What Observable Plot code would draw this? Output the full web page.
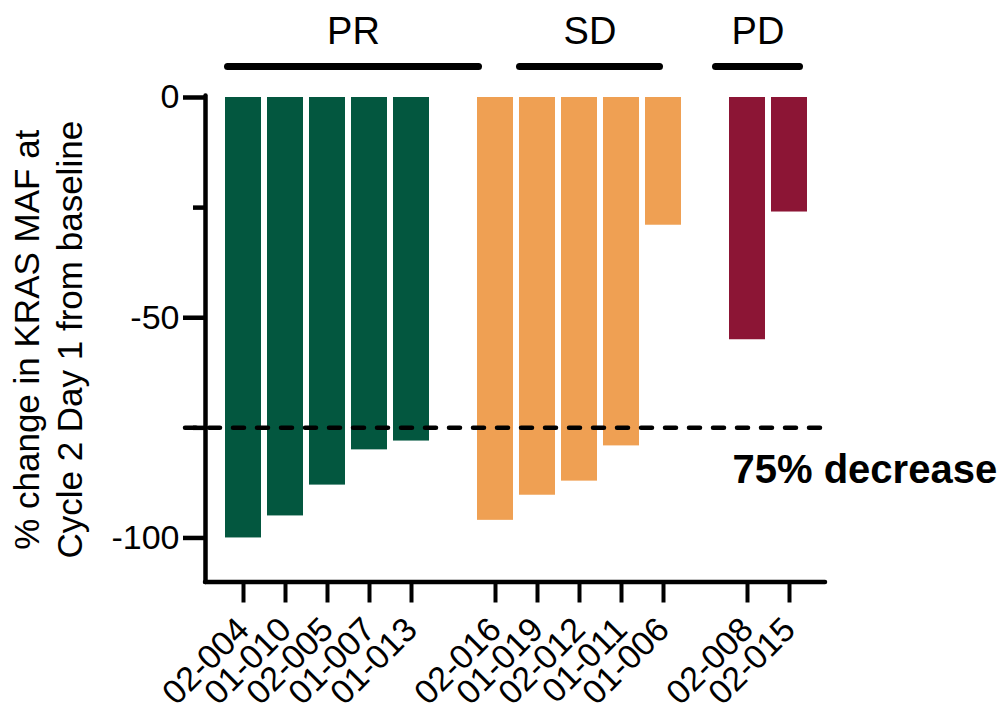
<!DOCTYPE html>
<html>
<head>
<meta charset="utf-8">
<script src="https://cdn.jsdelivr.net/npm/d3@7"></script>
<script src="https://cdn.jsdelivr.net/npm/@observablehq/plot@0.6"></script>
<style>
  html, body { margin: 0; padding: 0; background: #fff; }
  #chart svg { display: block; }
</style>
</head>
<body>
<div id="chart"></div>
<script>
// ---- data ----
const patients = ["02-004","01-010","02-005","01-007","01-013","02-016","01-019","02-012","01-011","01-006","02-008","02-015"];
const changes  = [-100, -95, -88, -80, -78, -96, -90.3, -87.1, -79.1, -29, -55, -26];
const response = ["PR","PR","PR","PR","PR","SD","SD","SD","SD","SD","PD","PD"];
const groups = ["PR", "SD", "PD"];
const groupColors = ["#03573F", "#EFA053", "#8C1535"];
const slots = ["02-004","01-010","02-005","01-007","01-013"," ","02-016","01-019","02-012","01-011","01-006","  ","02-008","02-015"];
const yMajorTicks = [0, -50, -100];
const yMinorTicks = [-25, -75];
const yDomain = [-110, 0];
const threshold = -75;
const thresholdLabel = "75% decrease";
const yLabelLines = ["% change in KRAS MAF at", "Cycle 2 Day 1 from baseline"];
const groupFirst = ["02-004", "02-016", "02-008"];
const groupLast  = ["01-013", "01-006", "02-015"];
const groupMid   = ["02-005", "02-012", "02-008"];

const rows = patients.map((id, i) => ({id, value: changes[i], group: response[i]}));

// ---- layout tweaks for header brackets (pixels) ----
const bracketInsets = [[2.5, -49.5], [42.5, 21.5], [-13.5, 7.5]];
const labelDx = [26, 10.5, 10.5];

const font = "'Liberation Sans', Arial, sans-serif";

const headerMarks = groups.flatMap((g, i) => [
  Plot.ruleY([{a: groupFirst[i], b: groupLast[i]}], {
    x1: "a", x2: "b", y: () => yDomain[1], dy: -31,
    stroke: "black", strokeWidth: 7, strokeLinecap: "round",
    insetLeft: bracketInsets[i][0], insetRight: bracketInsets[i][1]
  }),
  Plot.text([{x: groupMid[i], t: g}], {
    x: "x", y: () => yDomain[1], text: "t", dx: labelDx[i], dy: -54,
    lineAnchor: "bottom", textAnchor: "middle", fontSize: 38, fill: "black"
  })
]);

const chart = Plot.plot({
  width: 999,
  height: 712,
  marginLeft: 205,
  marginRight: 174,
  marginTop: 97,
  marginBottom: 130.5,
  style: {fontFamily: font, background: "white", color: "black", overflow: "visible"},
  x: {type: "band", domain: slots, paddingInner: 1/7, paddingOuter: 0, insetLeft: 20, insetRight: 18, axis: null},
  y: {domain: yDomain, axis: null},
  color: {domain: groups, range: groupColors},
  marks: [
    Plot.barY(rows, {x: "id", y: "value", fill: "group"}),
    Plot.ruleY([threshold], {stroke: "black", strokeWidth: 4.5, strokeDasharray: "11,13", strokeLinecap: "round", insetLeft: -20, insetRight: 4}),
    Plot.text([{v: threshold, t: thresholdLabel}], {
      y: "v", text: "t", frameAnchor: "right", textAnchor: "start", lineAnchor: "middle",
      dx: -93, dy: 42, fontSize: 40, fontWeight: "bold", fill: "black"
    }),
    Plot.frame({anchor: "left", stroke: "black", strokeWidth: 4.5, insetTop: -2, strokeLinecap: "round"}),
    Plot.ruleY([yDomain[0]], {stroke: "black", strokeWidth: 4.5, strokeLinecap: "round"}),
    Plot.axisY(yMajorTicks, {anchor: "left", tickSize: 22, tickPadding: 4, strokeWidth: 4.5, fontSize: 34, tickFormat: d => String(d), label: null}),
    Plot.axisY(yMinorTicks, {anchor: "left", tickSize: 12, strokeWidth: 4.5, tickFormat: () => "", label: null}),
    Plot.axisX(patients, {anchor: "bottom", tickSize: 21, tickPadding: 21, tickRotate: -45, strokeWidth: 4, fontSize: 34, label: null}),
    Plot.text([yLabelLines.join("\n")], {
      frameAnchor: "left", rotate: -90, dx: -159, textAnchor: "middle", lineAnchor: "middle",
      lineHeight: 1.23, fontSize: 35, fill: "black"
    }),
    ...headerMarks
  ]
});
document.getElementById("chart").appendChild(chart);
</script>
</body>
</html>
